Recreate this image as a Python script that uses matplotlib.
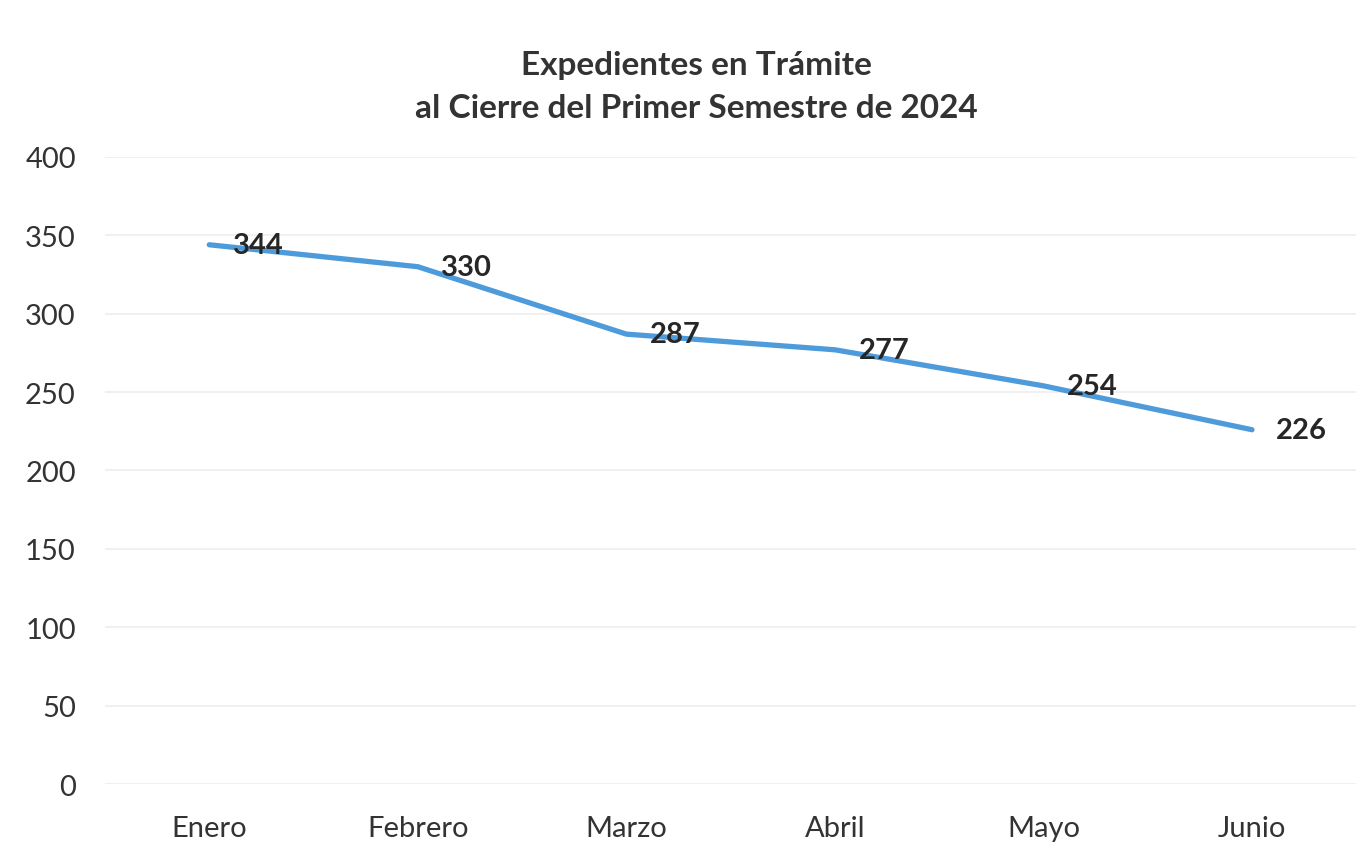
import matplotlib.pyplot as plt

months = ['Enero', 'Febrero', 'Marzo', 'Abril', 'Mayo', 'Junio']
expedientes = [344, 330, 287, 277, 254, 226]
yticks = [0, 50, 100, 150, 200, 250, 300, 350, 400]

plt.rcParams['font.family'] = ['Lato', 'DejaVu Sans']

fig = plt.figure(figsize=(13.69, 8.53), dpi=100)
ax = fig.add_axes([0.0767, 0.0797, 0.914, 0.7351])

x = list(range(len(months)))
ax.plot(x, expedientes, color='#4E9BDB', linewidth=3.8, solid_capstyle='round', zorder=3)

for i in range(len(x)):
    ax.annotate(str(expedientes[i]), (x[i], expedientes[i]), xytext=(17, 0),
                textcoords='offset points', ha='left', va='center',
                fontsize=21, fontweight='bold', color='#262626', zorder=4)

ax.set_xlim(-0.5, 5.5)
ax.set_ylim(0, 400)
ax.set_yticks(yticks)
ax.set_xticks(x)
ax.set_xticklabels(months)
ax.tick_params(axis='both', length=0, labelsize=21, labelcolor='#333333')
ax.tick_params(axis='y', pad=21)
ax.tick_params(axis='x', pad=22)
ax.grid(axis='y', color='#EDEDED', linewidth=1.2)
for s in ax.spines.values():
    s.set_visible(False)

fig.text(0.509, 0.898, 'Expedientes en Trámite\nal Cierre del Primer Semestre de 2024',
         ha='center', va='center', fontsize=24, fontweight='bold', color='#333333',
         linespacing=1.55)

fig.savefig('out.png', dpi=100)
